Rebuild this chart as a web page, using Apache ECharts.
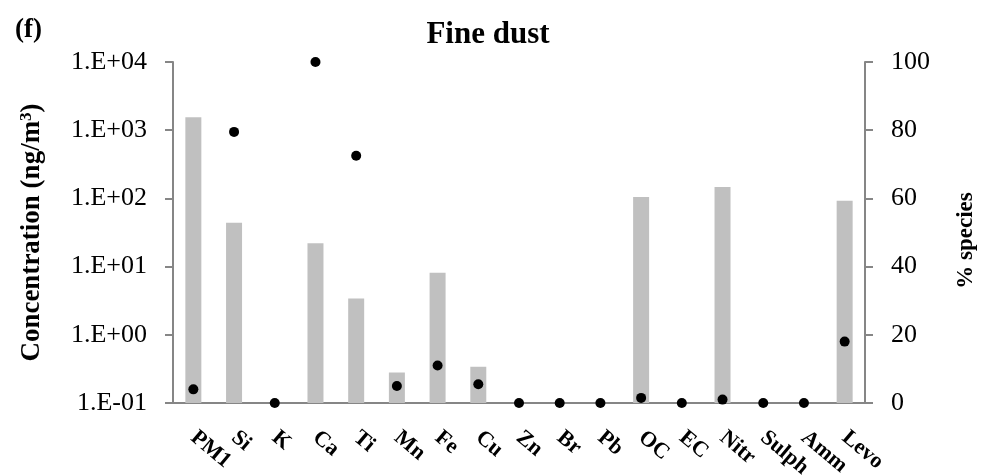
<!DOCTYPE html>
<html>
<head>
<meta charset="utf-8">
<script src="https://cdn.jsdelivr.net/npm/echarts@6/dist/echarts.min.js"></script>
<style>
  html, body { margin: 0; padding: 0; background: #fff; }
  #chart { width: 984px; height: 476px; }
</style>
</head>
<body>
<div id="chart"></div>
<script>
const chart = echarts.init(document.getElementById("chart"));

// data
const species = ["PM1", "Si", "K", "Ca", "Ti", "Mn", "Fe", "Cu", "Zn", "Br", "Pb", "OC", "EC", "Nitr", "Sulph", "Amm", "Levo"];
const concentration = [1550, 44, null, 22, 3.4, 0.28, 8.1, 0.34, null, null, null, 105, null, 147, null, null, 92];
const percentSpecies = [4, 79.5, 0, 100, 72.5, 5, 11, 5.5, 0, 0, 0, 1.5, 0, 1, 0, 0, 18];

const FONT = "'Liberation Serif', 'Times New Roman', serif";
const AXIS_GREY = "#868686";

function logLabel(v) {
  const e = Math.round(Math.log10(v));
  const sign = e < 0 ? "-" : "+";
  return "1.E" + sign + String(Math.abs(e)).padStart(2, "0");
}

chart.setOption({
  animation: false,
  textStyle: { fontFamily: FONT, color: "#000" },

  title: [
    {
      text: "Fine dust",
      left: 483,
      top: 14,
      textAlign: "center",
      textStyle: { fontFamily: FONT, fontSize: 31, fontWeight: "bold", color: "#000" }
    },
    {
      text: "(f)",
      left: 10,
      top: 12,
      textStyle: { fontFamily: FONT, fontSize: 27, fontWeight: "bold", color: "#000" }
    }
  ],

  grid: {
    left: 173,
    right: 119,
    top: 62,
    bottom: 73,
    containLabel: false,
    outerBoundsMode: "none"
  },

  xAxis: {
    type: "category",
    data: species,
    boundaryGap: true,
    axisLine: { lineStyle: { color: AXIS_GREY, width: 2 } },
    axisTick: { interval: 0, length: 8, lineStyle: { color: AXIS_GREY, width: 2 } },
    axisLabel: {
      interval: 0,
      rotate: -40,
      margin: 32,
      fontFamily: FONT,
      fontSize: 22,
      fontWeight: "bold",
      color: "#000"
    }
  },

  yAxis: [
    {
      type: "log",
      logBase: 10,
      min: 0.1,
      max: 10000,
      startValue: 0.1,
      name: "{b|Concentration (ng/m}{s|3}{b|)}",
      nameLocation: "middle",
      nameGap: 127,
      nameRotate: 90,
      nameTextStyle: {
        rich: {
          b: { fontFamily: FONT, fontSize: 27, fontWeight: "bold", color: "#000" },
          s: { fontFamily: FONT, fontSize: 17, fontWeight: "bold", color: "#000", verticalAlign: "top", padding: [0, 0, 11, 0] }
        }
      },
      axisLine: { show: true, lineStyle: { color: AXIS_GREY, width: 2 } },
      axisTick: { show: true, length: 8, lineStyle: { color: AXIS_GREY, width: 2 } },
      splitLine: { show: false },
      minorTick: { show: false },
      axisLabel: {
        margin: 26,
        fontFamily: FONT,
        fontSize: 26,
        color: "#000",
        formatter: logLabel
      }
    },
    {
      type: "value",
      position: "right",
      min: 0,
      max: 100,
      interval: 20,
      name: "% species",
      nameLocation: "middle",
      nameGap: 90,
      nameRotate: 90,
      nameTextStyle: {
        fontFamily: FONT,
        fontSize: 23,
        fontWeight: "bold",
        color: "#000",
        padding: [0, 16, 0, 0]
      },
      axisLine: { show: true, lineStyle: { color: AXIS_GREY, width: 2 } },
      axisTick: { show: true, length: 8, lineStyle: { color: AXIS_GREY, width: 2 } },
      splitLine: { show: false },
      axisLabel: {
        margin: 26,
        fontFamily: FONT,
        fontSize: 26,
        color: "#000"
      }
    }
  ],

  series: [
    {
      name: "Concentration",
      type: "bar",
      yAxisIndex: 0,
      data: concentration,
      barWidth: 16,
      itemStyle: { color: "#C0C0C0" }
    },
    {
      name: "% species",
      type: "scatter",
      yAxisIndex: 1,
      data: percentSpecies,
      symbol: "circle",
      symbolSize: 10,
      clip: false,
      itemStyle: { color: "#000", opacity: 1 },
      z: 5
    }
  ]
});
</script>
</body>
</html>
